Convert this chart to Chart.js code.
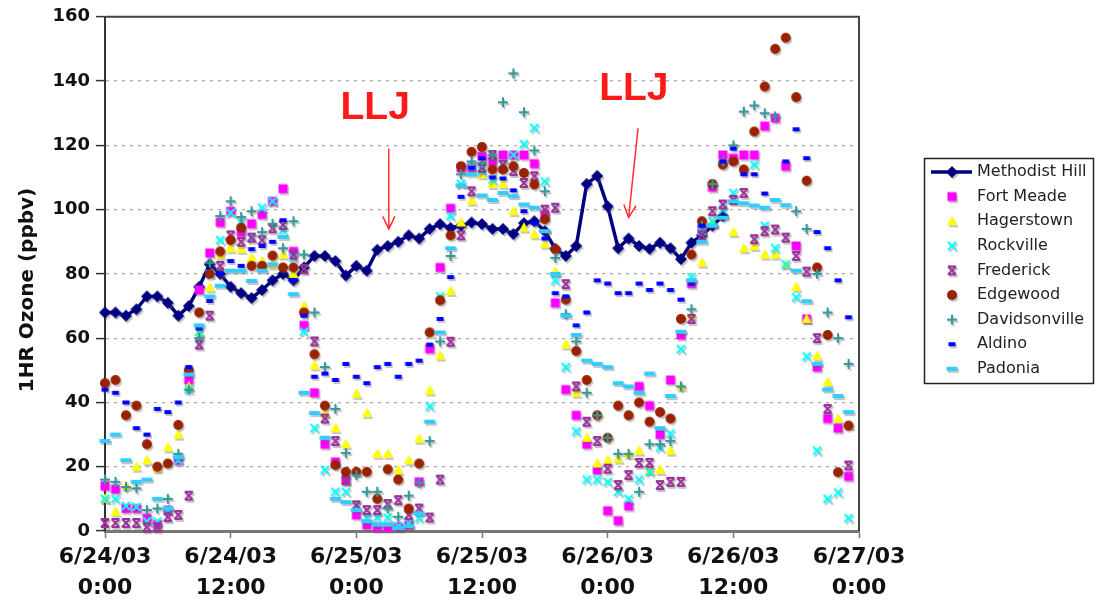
<!DOCTYPE html>
<html>
<head>
<meta charset="utf-8">
<script src="https://cdn.jsdelivr.net/npm/chart.js@4.4.0/dist/chart.umd.min.js"></script>
<style>
  html, body { margin: 0; padding: 0; background: #fff; }
  #myChart { display: block; }
</style>
</head>
<body>
<canvas id="myChart" width="1097" height="600"></canvas>
<script>
'use strict';

// x = hours since 6/24/03 0:00, one value per hour (h0 .. h71)
let tickDates = ['6/24/03', '6/24/03', '6/25/03', '6/25/03', '6/26/03', '6/26/03', '6/27/03'];
let tickTimes = ['0:00', '12:00', '0:00', '12:00', '0:00', '12:00', '0:00'];
let siteNames = ['Methodist Hill', 'Fort Meade', 'Hagerstown', 'Rockville', 'Frederick',
                 'Edgewood', 'Davidsonville', 'Aldino', 'Padonia'];

let methodistHill = [
  68, 68, 67, 69, 73, 73, 71, 67, 70, 76, 83, 80,
  76, 74, 72.5, 75, 78, 80, 78, 82, 85.6, 85.6, 84, 79.5,
  82.5, 81, 87.5, 88.7, 90, 92, 91, 94, 95.5, 94.3, 95, 96,
  95.5, 94, 94, 92.4, 95.8, 96.4, 93.3, 87.8, 85.6, 88.7, 108, 110.5,
  101, 88, 91, 88.7, 87.8, 89.7, 88, 84.6, 89.7, 92, 95, 98,
  null, null, null, null, null, null, null, null, null, null, null, null
];
let fortMeade = [
  14, 13, 7, 7, 4, 2, 6.5, 22, 47, 75, 86.5, 96,
  99.5, 93, 95.6, 98.5, 102.6, 106.5, 87, 64, 43, 27, 21.5, 15.8,
  5, 1.9, 1.2, 1.2, 1.3, 1.9, 15.3, 56.7, 82, 100.4, 113, 113,
  116.6, 115, 117, 117, 117, 114.3, 98.5, 71, 44, 36, 27, 19,
  6.3, 3.2, 7.8, 45, 39, 30, 47, 61, 77, 94, 107, 117,
  116, 117, 117, 126, 128.5, 113.5, 88.7, 66, 51, 35, 32, 17
];
let hagerstown = [
  10, 6, 14, 20, 22, 19.5, 26, 30, 45, 62, 75.8, 86,
  88, 87.8, 85, 84, 83, 86, 80, 70, 51.5, 36.7, 32, 27,
  42.7, 36.7, 24, 24, 19, 22, 28.7, 43.7, 54.6, 74.7, 96, 102.8,
  111, 108, 108, 99.5, 94.4, 92.3, 89.4, 80.7, 58, 43, 29, 21,
  22, 22.5, 24, 25, 19, 19, 25, 45, 67, 83.5, 96, null,
  93, 88, 88.7, 86, 86, 83, 76, 66, 54.4, 46.4, 35, 33
];
let rockville = [
  10, 10, 7.8, 7.5, 3, 3, 6.5, 22, 44, 62, 80, 90.5,
  99, 96, 91.3, 100.6, 102.6, 93.6, 85, 62, 32, 19, 12.2, 12.2,
  8, 4.2, 4.2, 4.2, 1.5, 2.4, 4, 38.8, 73, 98, 108, 113.5,
  112, 109.4, 114, 117, 120.4, 125.4, 108.8, 78, 51, 31, 16, 16,
  15.3, 12.2, 10, 16, 18.4, 26, 30.3, 56.6, 79, 93.3, 96.4, 100,
  105.2, null, 114, 95, 88, 83, 72.7, 54.3, 25, 10, 12, 4
];
let frederick = [
  2.5, 2.5, 2.5, 2.5, 1.2, 1.2, 4.3, 5, 11, 58, 67, 82.5,
  92, 90, 91.3, 90.5, 94.2, 95.2, 86, 81.5, 59, 35, 28, 15.8,
  8, 6.5, 6.5, 8.4, 9.6, 5, 7, 4.2, 16, 58.9, 92, 105.7,
  113, 117, 114, 112, 108.3, 110.4, 100, 100.6, 76.8, 45, 34, 28,
  19.4, 14.3, 17.4, 21.2, 21.2, 14.3, 15.3, 15.3, 66, 92, 99.5, 101.6,
  103, 105.2, 90.8, 93.3, 93.8, 91.3, 85.6, 80.7, 60, 38, null, 20.4
];
let edgewood = [
  46, 47, 36, 39, 27, 20, 21, 33, 50, 68, 80, 87,
  90.5, 94.4, 82.5, 82.5, 85.7, 82, 82, 68, 55, 39, 20.5, 18.4,
  18.4, 18.4, 10, 19.2, 16, 7, 21, 61.8, 71.8, 92, 113.5, 118,
  119.5, 112.5, 112.5, 113.5, 111.4, 107.8, 97, 87.7, 72, 56, 47, 36,
  29, 39, 36, 40, 34, 37, 35, 66, 86, 96.4, 108, 114,
  115, 112.5, 124.3, 138.3, 150, 153.5, 135, 109, 82, 61, 18.3, 32.8
];
let davidsonville = [
  16, 15.3, 13.7, 13.3, 6.5, 7, 10, 24, 44, 60, 83.5, 98,
  102.6, 97.7, 99.5, 93, 95.6, 88, 96.4, 86, 68, 51, 38, 24.3,
  17.4, 12.2, 12.2, 7, 4.4, 11, 15, 28, 59, 85.6, 111, 115,
  114.5, 117, 133.4, 142.4, 130.3, 118.4, 105.7, 85, 67.5, 59, 43, 36,
  29, 24, 24, 12.2, 27, 27, 28, 45, 69, 95, 108, 115,
  120, 130.5, 132.4, 130, 129, null, 99.5, 94, 80, 68, 60, 52
];
let aldino = [
  44, 43, 40, 32, 30, 38, 37, 40, 51, 63, 71.6, 80,
  84, 82.5, 87.7, 88.7, 90, 96.7, 78, 67, 48, 49, 47, 52,
  48, 46, 51, 52, 48, 52, 53, 58, 66, 79, 104, 113,
  116, 110, 109.7, 106, 99.5, 95.8, 91, 74, 73, 64, 68, 78,
  77, 74, 74, 77, 75, 77, 75, 72, 77, 95, null, 115,
  119, 111, 111, 105, null, 115, 125, 116, 93, 88, 78, 66.5
];
let padonia = [
  28, 30, 22, 15.3, 16, 10, 7, 23, 48.7, 64, 73, 76.3,
  81, 81, 77.8, 81, 83, 91.5, 73.7, 43, 36.7, 29, 10, 9,
  6.5, 3, 2, 2, 1, 1.5, 5.5, 34, 61.8, 88, 107.6, 111,
  104.4, 103, 105.2, 104.2, 101.6, 100.6, 93.3, 80, 67, 61, 53, 52,
  51, 46, 45, 43, 49, 32, 42, 62, 78, 90, 95, 97.5,
  102.6, 102, 101.3, 100.6, 103, 101.4, 81, 71.5, 52, 44, 42, 37
];

// red "LLJ" notes, placed in hours / ppbv
let lljNotes = [
  {text: 'LLJ', x: 25.8, y: 131.5, fromX: 27.1, fromY: 119, toX: 27.1, toY: 94},
  {text: 'LLJ', x: 50.5, y: 137.5, fromX: 50.9, fromY: 125.3, toX: 50.0, toY: 97.5}
];

let allSeries = [methodistHill, fortMeade, hagerstown, rockville, frederick,
                 edgewood, davidsonville, aldino, padonia];
let shapes = ['diamond', 'square', 'triangle', 'cross', 'star', 'circle', 'plus', 'dash', 'bar'];
let colors = ['#000080', '#ff00ff', '#ffff00', '#00ffff', '#993399',
              '#992200', '#339999', '#0000ff', '#33ccff'];

function drawShape(g, shape, cx, cy, col){
  g.fillStyle = col;
  g.strokeStyle = col;
  g.lineWidth = 2;
  g.beginPath();
  if (shape === 'diamond') {
    g.moveTo(cx, cy - 6); g.lineTo(cx + 6, cy); g.lineTo(cx, cy + 6); g.lineTo(cx - 6, cy);
    g.closePath(); g.fill();
  } else if (shape === 'square') {
    g.fillRect(cx - 4.5, cy - 4.5, 9, 9);
  } else if (shape === 'triangle') {
    g.moveTo(cx, cy - 5.5); g.lineTo(cx + 5, cy + 4); g.lineTo(cx - 5, cy + 4);
    g.closePath(); g.fill();
  } else if (shape === 'cross') {
    g.moveTo(cx - 4, cy - 4); g.lineTo(cx + 4, cy + 4);
    g.moveTo(cx + 4, cy - 4); g.lineTo(cx - 4, cy + 4);
    g.stroke();
  } else if (shape === 'star') {
    g.moveTo(cx - 4, cy - 4); g.lineTo(cx + 4, cy + 4);
    g.moveTo(cx + 4, cy - 4); g.lineTo(cx - 4, cy + 4);
    g.moveTo(cx - 4, cy - 4); g.lineTo(cx + 4, cy - 4);
    g.moveTo(cx - 4, cy + 4); g.lineTo(cx + 4, cy + 4);
    g.stroke();
  } else if (shape === 'circle') {
    g.arc(cx, cy, 5, 0, Math.PI * 2); g.fill();
  } else if (shape === 'plus') {
    g.moveTo(cx - 5, cy); g.lineTo(cx + 5, cy);
    g.moveTo(cx, cy - 5); g.lineTo(cx, cy + 5);
    g.stroke();
  } else if (shape === 'dash') {
    g.fillRect(cx - 3.5, cy - 2, 7, 4);
  } else {
    g.fillRect(cx - 5.5, cy - 2, 11, 4);
  }
}

function makeMarker(shape, color){
  let c = document.createElement('canvas');
  c.width = 22; c.height = 22;
  let g = c.getContext('2d');
  drawShape(g, shape, 12.5, 13, 'rgba(90,90,90,0.35)'); // excel style drop shadow
  drawShape(g, shape, 11, 11, color);
  return c;
}

function toPoints(arr){
  let pts = [];
  for (let i = 0; i < arr.length; i++) {
    if (arr[i] !== null) pts.push({x: i, y: arr[i]});
  }
  return pts;
}

let markers = shapes.map((s, i) => makeMarker(s, colors[i]));

let datasets = allSeries.map(function(arr, i){
  return {
    label: siteNames[i],
    data: toPoints(arr),
    pointStyle: markers[i],
    pointRadius: 5,
    showLine: i === 0,
    borderColor: colors[i],
    borderWidth: i === 0 ? 3.5 : 0,
    backgroundColor: colors[i],
    order: allSeries.length - i,
    clip: false
  };
});

let framePlugin = {
  id: 'frame',
  beforeDatasetsDraw(chart){
    let a = chart.chartArea, ctx = chart.ctx;
    ctx.save();
    ctx.strokeStyle = '#444';
    ctx.lineWidth = 2;
    ctx.beginPath();
    ctx.moveTo(a.left, a.top); ctx.lineTo(a.right, a.top); ctx.lineTo(a.right, a.bottom);
    ctx.stroke();
    ctx.restore();
  }
};

let titlePlugin = {
  id: 'ytitle',
  afterDraw(chart){
    let ctx = chart.ctx;
    ctx.save();
    ctx.translate(28, 290);
    ctx.rotate(-Math.PI / 2);
    ctx.fillStyle = '#111';
    ctx.font = 'bold 20px "DejaVu Sans"';
    ctx.textAlign = 'center';
    ctx.textBaseline = 'middle';
    ctx.fillText('1HR Ozone (ppbv)', 0, 0);
    ctx.restore();
  }
};

let legendPlugin = {
  id: 'boxLegend',
  afterDraw(chart){
    let ctx = chart.ctx;
    ctx.save();
    ctx.strokeStyle = '#222';
    ctx.lineWidth = 1.5;
    ctx.strokeRect(924.5, 158.5, 169, 225);
    ctx.font = '16px "DejaVu Sans"';
    ctx.fillStyle = '#222';
    ctx.textBaseline = 'middle';
    for (let i = 0; i < siteNames.length; i++) {
      let y = 172 + i * 24.6;
      if (i === 0) {
        ctx.strokeStyle = colors[0];
        ctx.lineWidth = 3.5;
        ctx.beginPath(); ctx.moveTo(931, y); ctx.lineTo(972, y); ctx.stroke();
      }
      ctx.drawImage(markers[i], 952 - 11, y - 11);
      ctx.fillText(siteNames[i], 977, y);
    }
    ctx.restore();
  }
};

let lljPlugin = {
  id: 'llj',
  afterDraw(chart){
    let ctx = chart.ctx, xs = chart.scales.x, ys = chart.scales.y;
    ctx.save();
    ctx.fillStyle = '#ff1a1a';
    ctx.strokeStyle = '#ff3030';
    ctx.lineWidth = 1.5;
    ctx.font = 'bold 39px "Liberation Sans"';
    ctx.textAlign = 'center';
    ctx.textBaseline = 'middle';
    lljNotes.forEach(function(n){
      ctx.fillText(n.text, xs.getPixelForValue(n.x), ys.getPixelForValue(n.y));
      let x1 = xs.getPixelForValue(n.fromX), y1 = ys.getPixelForValue(n.fromY);
      let x2 = xs.getPixelForValue(n.toX), y2 = ys.getPixelForValue(n.toY);
      let ang = Math.atan2(y2 - y1, x2 - x1);
      ctx.beginPath();
      ctx.moveTo(x1, y1); ctx.lineTo(x2, y2);
      ctx.moveTo(x2 - 14 * Math.cos(ang - 0.45), y2 - 14 * Math.sin(ang - 0.45));
      ctx.lineTo(x2, y2);
      ctx.lineTo(x2 - 14 * Math.cos(ang + 0.45), y2 - 14 * Math.sin(ang + 0.45));
      ctx.stroke();
    });
    ctx.restore();
  }
};

let ctx = document.getElementById('myChart').getContext('2d');
let chart = new Chart(ctx, {
  type: 'scatter',
  data: {datasets: datasets},
  options: {
    responsive: false,
    animation: false,
    devicePixelRatio: 1,
    layout: {padding: {left: 0, right: 238, top: 15, bottom: 0}},
    plugins: {legend: {display: false}, tooltip: {enabled: false}},
    scales: {
      x: {
        type: 'linear', min: 0, max: 72,
        afterFit: function(s){ s.height = 69; },
        ticks: {
          stepSize: 12, autoSkip: false, maxRotation: 0, color: '#111', padding: 4,
          font: {family: 'DejaVu Sans', size: 22, weight: 'bold', lineHeight: 1.4},
          callback: function(v){ return [tickDates[v / 12], tickTimes[v / 12]]; }
        },
        grid: {drawOnChartArea: false, drawTicks: true, tickLength: 7, tickColor: '#777', tickWidth: 1.5},
        border: {color: '#777', width: 3}
      },
      y: {
        min: 0, max: 160,
        afterFit: function(s){ s.width = 105; },
        ticks: {
          stepSize: 20, color: '#111', padding: 6,
          font: {family: 'DejaVu Sans', size: 18, weight: 'bold'}
        },
        grid: {color: '#aaa', lineWidth: 1.2, tickLength: 9, tickColor: '#333', tickWidth: 1.5},
        border: {color: '#333', width: 2, dash: [3, 5]}
      }
    }
  },
  plugins: [framePlugin, titlePlugin, legendPlugin, lljPlugin]
});
</script>
</body>
</html>
